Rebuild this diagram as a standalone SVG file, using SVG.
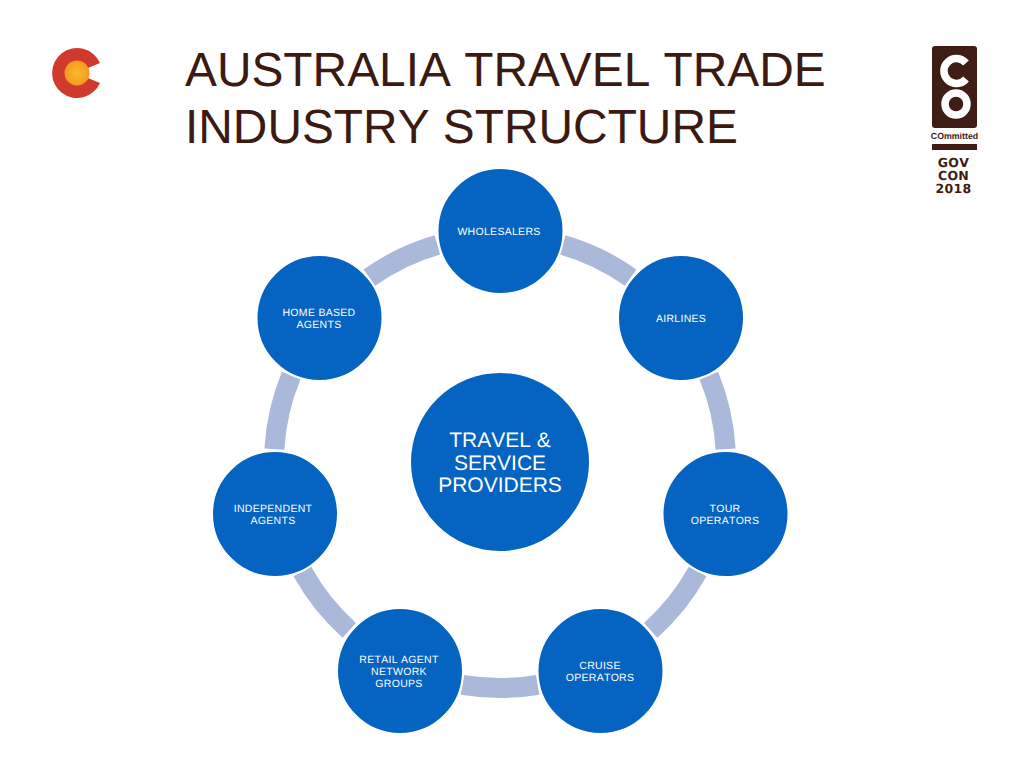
<svg xmlns="http://www.w3.org/2000/svg" width="1024" height="768" viewBox="0 0 1024 768">
<style>
text{font-kerning:none;text-rendering:geometricPrecision}
.n{fill:#0563c1;stroke:#fff;stroke-width:2}
.t{font-family:"Liberation Sans",Arial,sans-serif;font-size:10.5px;fill:#fff;text-anchor:middle;letter-spacing:.3px}
.c{font-family:"Liberation Sans",Arial,sans-serif;font-size:21px;fill:#fff;text-anchor:middle}
.h{font-family:"Liberation Sans",Arial,sans-serif;font-size:47.85px;fill:#3b1a12}
.a{fill:none;stroke:#aab8da;stroke-width:20}
.g{font-family:"DejaVu Sans",sans-serif;font-weight:bold;font-size:12.5px;fill:#3f1d14;text-anchor:middle}
</style>
<defs>
<radialGradient id="sun"><stop offset="0" stop-color="#fcbc2c"/><stop offset="1" stop-color="#f39a1f"/></radialGradient>
</defs>
<rect width="1024" height="768" fill="#fff"/>
<g id="logo-left">
<path d="M100 63A25 25 0 1 0 100 83L88 78 L88 68Z" fill="#cf3a2d"/>
<circle cx="77" cy="73" r="12.5" fill="url(#sun)"/>
</g>
<g id="title">
<text class="h" x="185" y="86">AUSTRALIA TRAVEL TRADE</text>
<text class="h" x="185" y="143">INDUSTRY STRUCTURE</text>
</g>
<g id="logo-right">
<rect x="932" y="46" width="45" height="82" rx="3" fill="#3f1d14"/>
<path d="M966 63A12.5 12.5 0 1 0 966 79" fill="none" stroke="#fff" stroke-width="7.5"/>
<circle cx="956" cy="104" r="11" fill="none" stroke="#fff" stroke-width="7.5"/>
<text x="954.5" y="139" font-family="'Liberation Sans',Arial,sans-serif" font-weight="bold" font-size="8.8px" fill="#3f1d14" text-anchor="middle">COmmitted</text>
<rect x="932" y="144" width="45" height="6" fill="#3f1d14"/>
<text class="g" x="953.5" y="167" style="letter-spacing:.3px">GOV</text>
<text class="g" x="953.5" y="180" style="letter-spacing:.3px">CON</text>
<text class="g" x="953.5" y="193" style="letter-spacing:.3px">2018</text>
</g>
<g id="connectors">
<path class="a" transform="rotate(25.71 500 462)" d="M462.3 239.2A226 226 0 0 1 537.7 239.2"/>
<path class="a" transform="rotate(77.14 500 462)" d="M462.3 239.2A226 226 0 0 1 537.7 239.2"/>
<path class="a" transform="rotate(128.57 500 462)" d="M462.3 239.2A226 226 0 0 1 537.7 239.2"/>
<path class="a" transform="rotate(180 500 462)" d="M462.3 239.2A226 226 0 0 1 537.7 239.2"/>
<path class="a" transform="rotate(231.43 500 462)" d="M462.3 239.2A226 226 0 0 1 537.7 239.2"/>
<path class="a" transform="rotate(282.86 500 462)" d="M462.3 239.2A226 226 0 0 1 537.7 239.2"/>
<path class="a" transform="rotate(334.29 500 462)" d="M462.3 239.2A226 226 0 0 1 537.7 239.2"/>
</g>
<g id="center"><circle class="n" cx="500" cy="462" r="90"/>
<text class="c" x="500" y="446.5">TRAVEL &amp;</text><text class="c" x="500" y="469.5">SERVICE</text><text class="c" x="500" y="491.5">PROVIDERS</text></g>
<g id="wholesalers"><circle class="n" cx="500.5" cy="231" r="63"/><text class="t" x="499" y="235">WHOLESALERS</text></g>
<g id="airlines"><circle class="n" cx="681" cy="318" r="63"/><text class="t" x="681" y="322">AIRLINES</text></g>
<g id="tour"><circle class="n" cx="725.5" cy="514" r="63"/><text class="t" x="725" y="512">TOUR</text><text class="t" x="725" y="524">OPERATORS</text></g>
<g id="cruise"><circle class="n" cx="600.5" cy="671" r="63"/><text class="t" x="600" y="669">CRUISE</text><text class="t" x="600" y="681">OPERATORS</text></g>
<g id="retail"><circle class="n" cx="400" cy="671" r="63"/><text class="t" x="399" y="663">RETAIL AGENT</text><text class="t" x="399" y="675">NETWORK</text><text class="t" x="399" y="687">GROUPS</text></g>
<g id="independent"><circle class="n" cx="275" cy="514" r="63"/><text class="t" x="273" y="512">INDEPENDENT</text><text class="t" x="273" y="524">AGENTS</text></g>
<g id="home"><circle class="n" cx="319.5" cy="318" r="63"/><text class="t" x="319" y="316">HOME BASED</text><text class="t" x="319" y="328">AGENTS</text></g>
</svg>
